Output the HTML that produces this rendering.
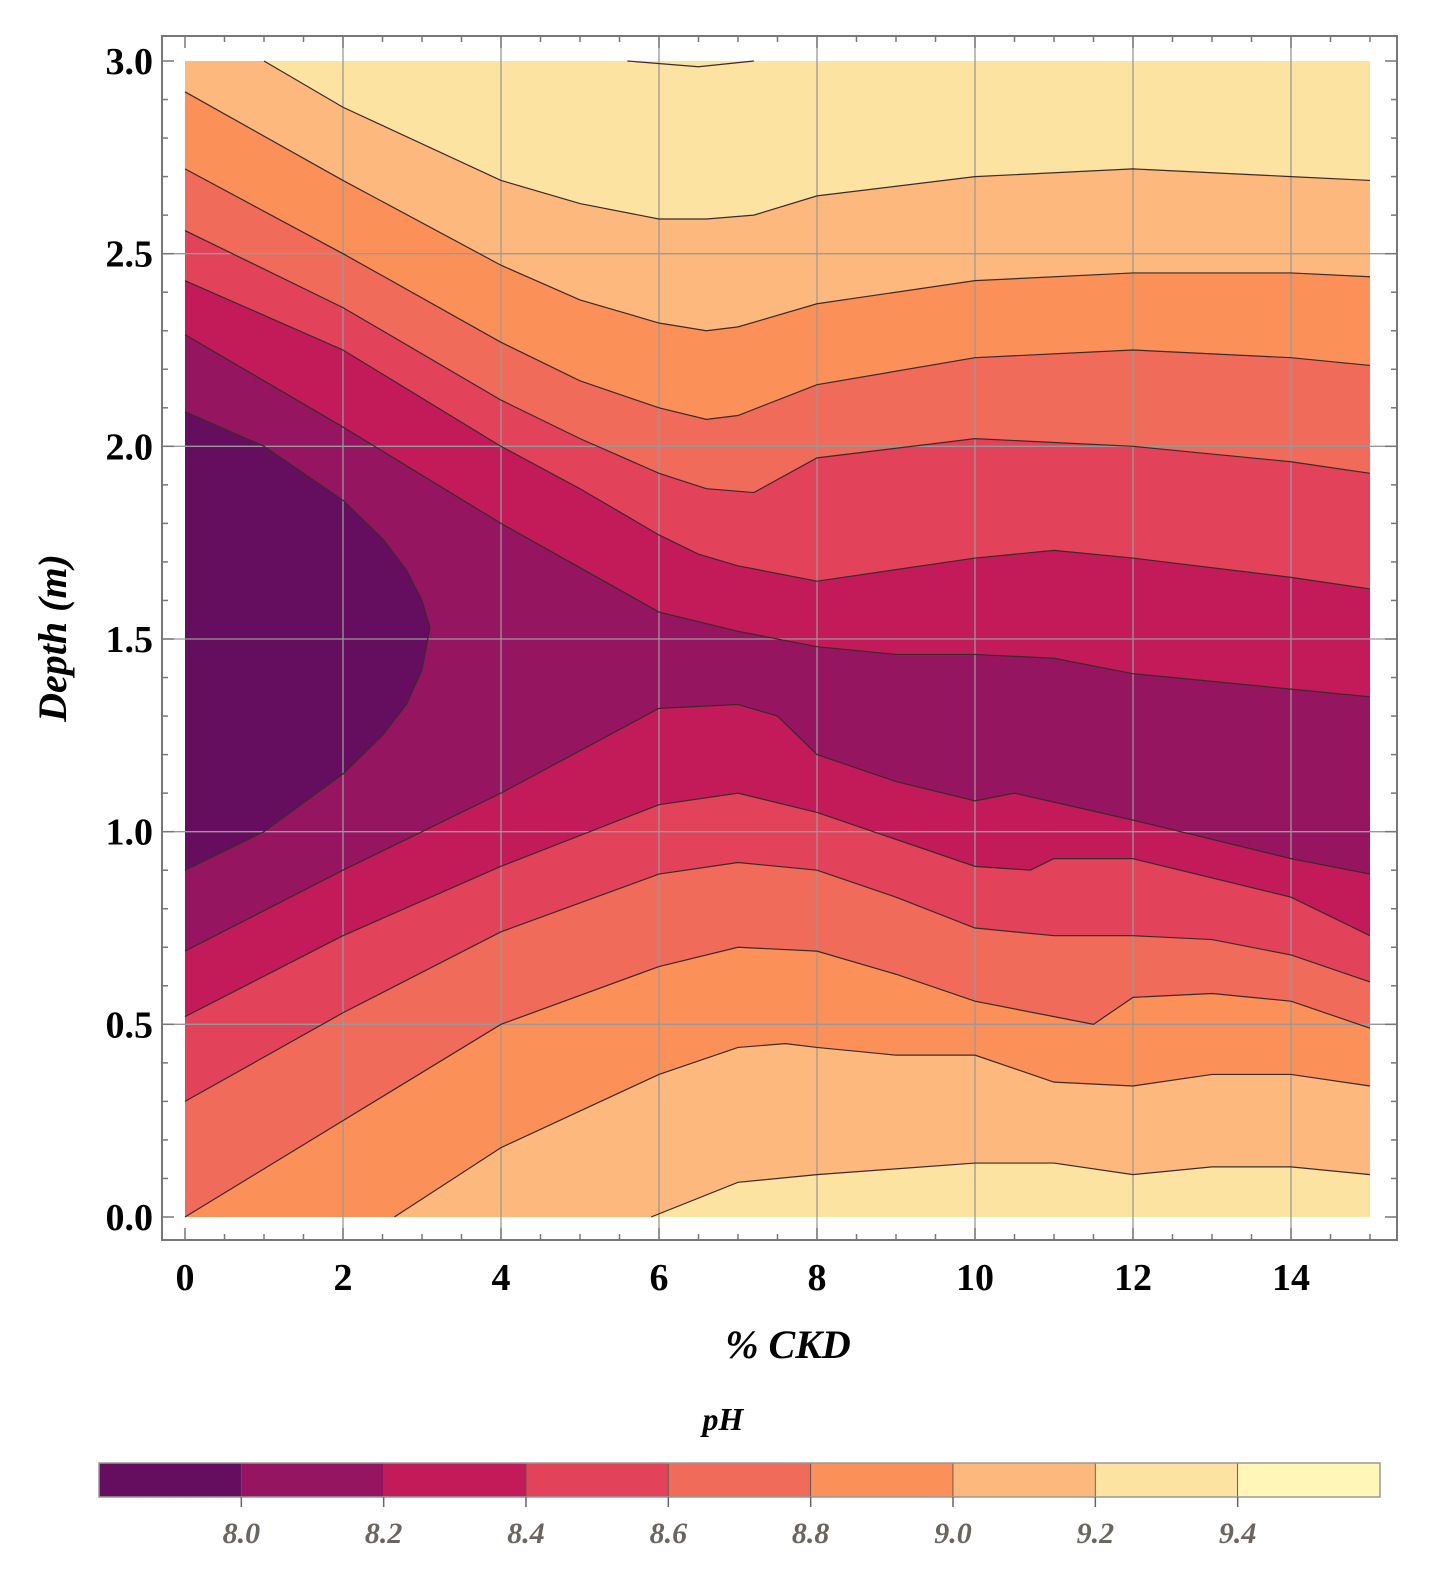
<!DOCTYPE html>
<html><head><meta charset="utf-8"><style>
html,body{margin:0;padding:0;background:#fff}
svg{display:block}
text{font-family:"Liberation Serif",serif;font-weight:bold}
</style></head><body>
<svg id="chart" width="1435" height="1577" viewBox="0 0 1435 1577" xmlns="http://www.w3.org/2000/svg">
<g id="plot"></g>
<g id="axes"></g>
<g id="cbar"></g>
</svg>
<script>
// ---- data ----
const levels = [9.2, 9.0, 8.8, 8.6, 8.4, 8.2, 8.0];
const bandColors = ["#fdb97d","#fb9158","#f06b5a","#e2425a","#c31b59","#951560","#650e5f"];
const baseColor = "#fde3a1";
const upperX = [
  [1,2,4,5,6,6.6,7.2,8,10,12,14,15],
  [0,2,4,5,6,6.6,7,8,10,12,14,15],
  [0,2,4,5,6,6.6,7,8,10,12,14,15],
  [0,2,4,5,6,6.6,7.2,8,10,12,14,15],
  [0,2,4,5,6,6.5,7,8,10,11,12,14,15],
  [0,2,4,6,7,8,9,10,11,12,14,15],
  [0,1,2,2.5,2.8,3,3.1]
];
const upperY = [
  [3.0,2.88,2.69,2.63,2.59,2.59,2.6,2.65,2.7,2.72,2.7,2.69],
  [2.92,2.69,2.47,2.38,2.32,2.30,2.31,2.37,2.43,2.45,2.45,2.44],
  [2.72,2.5,2.27,2.17,2.1,2.07,2.08,2.16,2.23,2.25,2.23,2.21],
  [2.56,2.36,2.12,2.02,1.93,1.89,1.88,1.97,2.02,2.0,1.96,1.93],
  [2.43,2.25,2.0,1.89,1.77,1.72,1.69,1.65,1.71,1.73,1.71,1.66,1.63],
  [2.29,2.05,1.8,1.57,1.52,1.48,1.46,1.46,1.45,1.41,1.37,1.35],
  [2.09,2.0,1.86,1.76,1.68,1.6,1.53]
];
const lowerX = [
  [5.9,7,8,10,11,12,13,14,15],
  [2.65,4,6,7,7.6,8,9,10,11,12,13,14,15],
  [0,2,4,6,7,8,9,10,11,11.5,12,13,14,15],
  [0,2,4,6,7,8,9,10,11,12,13,14,15],
  [0,2,4,6,7,8,9,10,10.7,11,12,14,15],
  [0,2,4,6,7,7.5,8,9,10,10.5,12,14,15],
  [0,1,2,2.5,2.8,3,3.1]
];
const lowerY = [
  [0.0,0.09,0.11,0.14,0.14,0.11,0.13,0.13,0.11],
  [0.0,0.18,0.37,0.44,0.45,0.44,0.42,0.42,0.35,0.34,0.37,0.37,0.34],
  [0.0,0.25,0.5,0.65,0.7,0.69,0.63,0.56,0.52,0.5,0.57,0.58,0.56,0.49],
  [0.3,0.53,0.74,0.89,0.92,0.9,0.83,0.75,0.73,0.73,0.72,0.68,0.61],
  [0.52,0.73,0.91,1.07,1.1,1.05,0.98,0.91,0.9,0.93,0.93,0.83,0.73],
  [0.69,0.9,1.1,1.32,1.33,1.3,1.2,1.13,1.08,1.1,1.03,0.93,0.89],
  [0.9,1.0,1.15,1.25,1.33,1.42,1.53]
];
const topX = [5.6,6.5,7.2];
const topY = [3.0,2.985,3.0];
const xTicks = [0,2,4,6,8,10,12,14];
const yTicks = [0.0,0.5,1.0,1.5,2.0,2.5,3.0];
const cbTicks = ["8.0","8.2","8.4","8.6","8.8","9.0","9.2","9.4"];
const cbColors = ["#650e5f","#951560","#c31b59","#e2425a","#f06b5a","#fb9158","#fdb97d","#fde3a1","#fff6b8"];

// ---- axes ----
const X0=185,X1=1370,Y0=1217,Y1=61;
const sx=v=>X0+(v/15)*(X1-X0);
const sy=v=>Y0-(v/3)*(Y0-Y1);
const NS="http://www.w3.org/2000/svg";
function mk(tag,attrs,parent){const e=document.createElementNS(NS,tag);for(const k in attrs)e.setAttribute(k,attrs[k]);parent.appendChild(e);return e;}
const plot=document.getElementById('plot'),axes=document.getElementById('axes'),cbar=document.getElementById('cbar');

let r=mk('rect',{x:X0,y:Y1,width:X1-X0,height:Y0-Y1,fill:baseColor},plot);



const pts=(xs,ys)=>xs.map((x,i)=>[sx(x),sy(ys[i])]);
levels.forEach((L,i)=>{
  let up=pts(upperX[i],upperY[i]);
  if(upperX[i][0]>0) up=[[sx(0),sy(3)]].concat(up);
  let lo=pts(lowerX[i],lowerY[i]);
  if(lowerX[i][0]>0) lo=[[sx(0),sy(0)]].concat(lo);
  const poly=up.concat(lo.slice().reverse());
  const p=mk('polygon',{points:poly.map(q=>q.join(',')).join(' '),fill:bandColors[i]},plot);
  
  
});
// grid
xTicks.slice(1).forEach(t=>{const l=mk('line',{x1:sx(t),x2:sx(t),y1:36,y2:1240,stroke:'#999','stroke-width':1.3},plot);

});
yTicks.slice(1,-1).forEach(t=>{const l=mk('line',{x1:162,x2:1397,y1:sy(t),y2:sy(t),stroke:'#999','stroke-width':1.3},plot);

});
// contour lines
levels.forEach((L,i)=>{
  [[upperX[i],upperY[i]],[lowerX[i],lowerY[i]]].forEach(([xs,ys])=>{
    const l=mk('polyline',{points:pts(xs,ys).map(q=>q.join(',')).join(' '),fill:'none',stroke:'#3a2a2a','stroke-width':1.2},plot);
    
    
  });
});
let tl=mk('polyline',{points:pts(topX,topY).map(q=>q.join(',')).join(' '),fill:'none',stroke:'#3a2a2a','stroke-width':1.2},plot);



// frame
let fr=mk('rect',{x:162,y:36,width:1235,height:1204,fill:'none',stroke:'#777','stroke-width':2},axes);


for(let v=0;v<=15.001;v+=0.5){const maj=Math.abs(v%2)<1e-6;
  [[1240,1240-(maj?12:6)],[36,36+(maj?12:6)]].forEach(([a,b])=>mk('line',{x1:sx(v),x2:sx(v),y1:a,y2:b,stroke:'#777','stroke-width':1.5},axes));}
for(let v=0;v<=3.001;v+=0.1){const maj=Math.abs((v*2)-Math.round(v*2))<1e-6;
  [[162,162+(maj?12:6)],[1397,1397-(maj?12:6)]].forEach(([a,b])=>mk('line',{x1:a,x2:b,y1:sy(v),y2:sy(v),stroke:'#777','stroke-width':1.5},axes));}
xTicks.forEach(t=>{const e=mk('text',{x:sx(t),y:1290,'text-anchor':'middle','font-size':38},axes);e.textContent=t;

});
yTicks.forEach(t=>{const e=mk('text',{x:153,y:sy(t)+13,'text-anchor':'end','font-size':38},axes);e.textContent=t.toFixed(1);

});
let xt=mk('text',{x:788,y:1358,'text-anchor':'middle','font-size':40,'font-style':'italic'},axes);xt.textContent='% CKD';


let yt=mk('text',{x:0,y:0,'text-anchor':'middle','font-size':40,'font-style':'italic',transform:'translate(66,638) rotate(-90)'},axes);yt.textContent='Depth (m)';



// colorbar
const CB0=99,CB1=1380,CBY=1463,CBH=34,w=(CB1-CB0)/cbColors.length;
cbColors.forEach((c,i)=>{const e=mk('rect',{x:CB0+i*w,y:CBY,width:w,height:CBH,fill:c,stroke:'#555','stroke-width':0.8},cbar);

});
mk('rect',{x:CB0,y:CBY,width:CB1-CB0,height:CBH,fill:'none',stroke:'#999','stroke-width':1.5},cbar);
cbTicks.forEach((t,i)=>{const x=CB0+(i+1)*w;
  mk('line',{x1:x,x2:x,y1:CBY+CBH,y2:CBY+CBH+10,stroke:'#666','stroke-width':1.5},cbar);
  const e=mk('text',{x:x,y:1543,'text-anchor':'middle','font-size':30,'font-style':'italic',fill:'#6b6560'},cbar);e.textContent=t;
  
  });
let ph=mk('text',{x:723,y:1430,'text-anchor':'middle','font-size':32,'font-style':'italic'},cbar);ph.textContent='pH';


</script>
</body></html>
